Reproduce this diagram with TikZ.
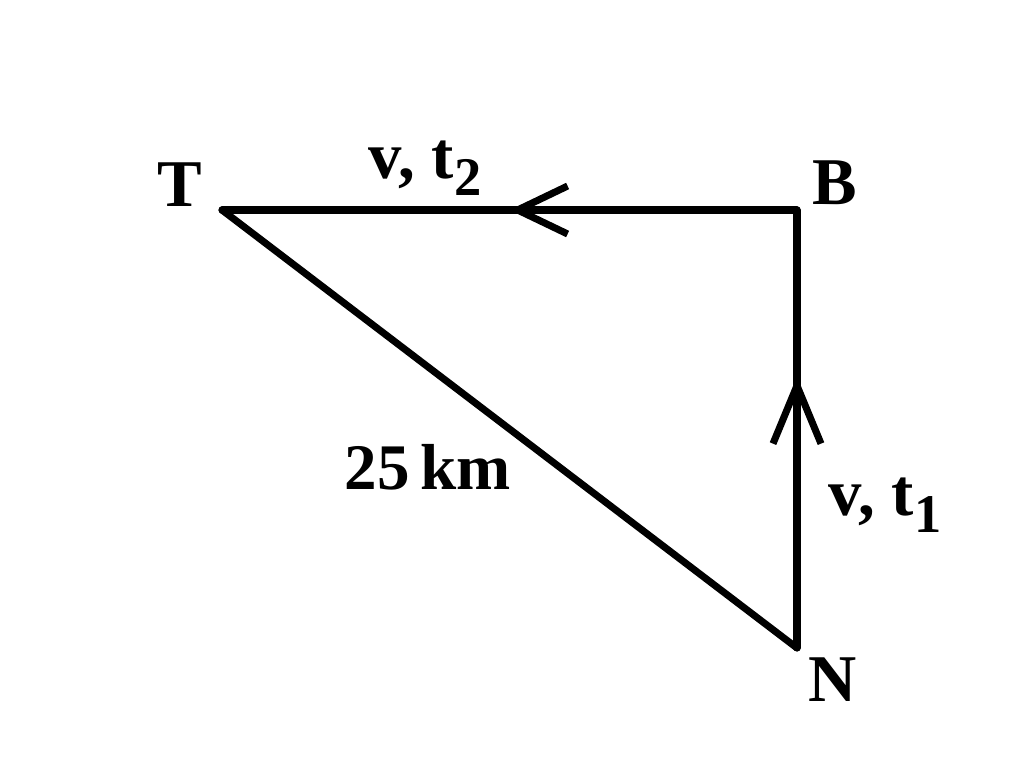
\documentclass[tikz,border=0pt]{standalone}
\usepackage{fontspec}
\setmainfont{Liberation Serif}
\usetikzlibrary{arrows.meta,positioning,decorations.markings}

\newcommand{\sublbl}[1]{\raisebox{-0.25em}{\fontsize{15.5}{16}\selectfont #1}}

\tikzset{
  leg/.style={line width=2pt},
  midarrow/.style 2 args={postaction={decorate,decoration={markings,
      mark=at position #1 with {\arrow{Straight Barb[length=#2,width=4.8mm,line width=2pt]}}}}},
  lbl/.style={font=\fontsize{19}{21}\selectfont\bfseries, inner sep=0pt}
}

\begin{document}
\begin{tikzpicture}
        \useasboundingbox (0,0) rectangle (10.24,7.64);
        \coordinate (T) at (2.22,5.54);
        \coordinate (B) at (7.97,5.54);
        \coordinate (N) at (7.97,1.16);
        \node[lbl] (tT) at ([xshift=-4.2mm,yshift=2.5mm]T) {T};
        \node[lbl] (tB) at ([xshift=3.8mm,yshift=2.7mm]B) {B};
        \node[lbl] (tN) at ([xshift=3.6mm,yshift=-3.2mm]N) {N};
        \path[leg,line cap=round,line join=round]
         (N) edge[midarrow={0.62}{5.8mm}] (B)
         (B) edge[midarrow={0.5}{5mm}] (T)
         (T) edge (N);
        \node[lbl] (vt2) at ([xshift=2.03cm,yshift=4.2mm]T) {v, t\sublbl{2}};
        \node[lbl] (vt1) at ([xshift=8.8mm,yshift=1.43cm]N) {v, t\sublbl{1}};
        \node[lbl,font=\fontsize{18.5}{20}\selectfont\bfseries] (d) at (4.28,2.97) {25\,km};
\end{tikzpicture}
\end{document}
